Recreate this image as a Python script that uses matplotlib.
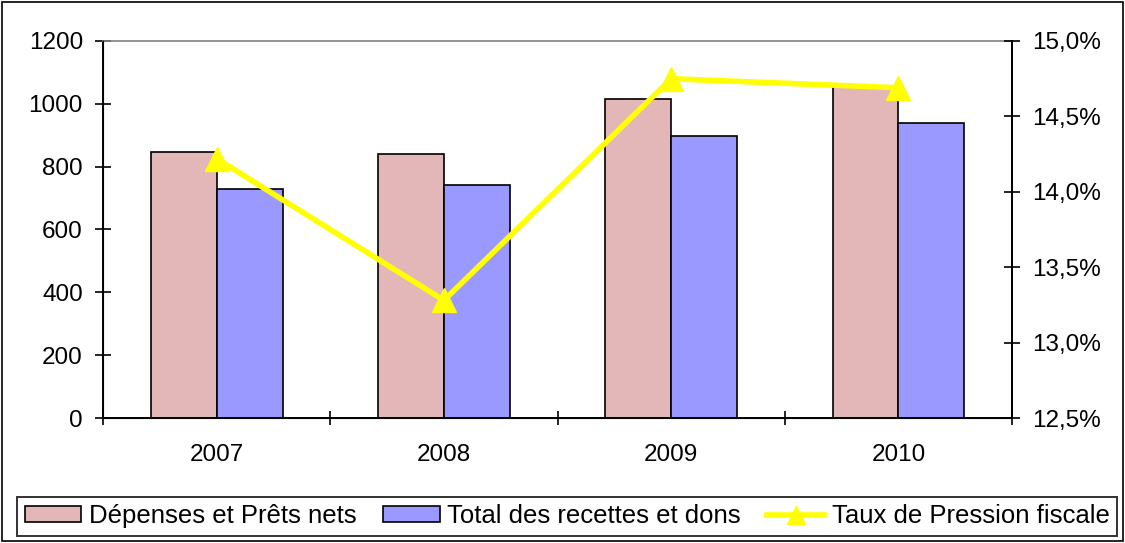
import numpy as np
import matplotlib.pyplot as plt
from matplotlib.patches import Rectangle
from matplotlib.ticker import FuncFormatter

plt.rcParams['font.family'] = ['Liberation Sans', 'DejaVu Sans']

annees = ['2007', '2008', '2009', '2010']
depenses = [847, 840, 1015, 1055]        # Dépenses et Prêts nets
recettes = [729, 742, 898, 939]          # Total des recettes et dons
pression = [14.22, 13.28, 14.75, 14.69]  # Taux de Pression fiscale (%)

rose = '#E3B7B7'
bleu = '#9999FF'
jaune = '#FFFF00'

fig = plt.figure(figsize=(11.25, 5.43), dpi=100)
ax = fig.add_axes([0.0916, 0.2302, 0.808, 0.6943])

x = np.arange(len(annees))
w = 0.29
b1 = ax.bar(x - w / 2, depenses, w, color=rose, edgecolor='black', linewidth=1.2,
            label='Dépenses et Prêts nets')
b2 = ax.bar(x + w / 2, recettes, w, color=bleu, edgecolor='black', linewidth=1.2,
            label='Total des recettes et dons')

ax.set_xlim(-0.5, len(annees) - 0.5)
ax.set_ylim(0, 1200)
ax.set_yticks(np.arange(0, 1201, 200))
# traits entre les categories, etiquettes au centre
ax.set_xticks(np.arange(-0.5, len(annees), 1.0))
ax.set_xticklabels([])
ax.set_xticks(x, minor=True)
ax.set_xticklabels(annees, minor=True)
ax.tick_params(axis='x', which='major', length=10, width=1.2, direction='inout')
ax.tick_params(axis='x', which='minor', length=0, pad=19, labelsize=17.5)
ax.tick_params(axis='y', length=11, width=1.2, direction='inout', labelsize=17.5, pad=9)

for s in ['left', 'bottom', 'right']:
    ax.spines[s].set_linewidth(1.4)
ax.spines['top'].set_color('#808080')
ax.spines['top'].set_linewidth(1.2)

ax2 = ax.twinx()
ligne, = ax2.plot(x, pression, color=jaune, linewidth=4, marker='^', markersize=17,
                  label='Taux de Pression fiscale')
ax2.set_ylim(12.5, 15.0)
ax2.set_yticks(np.arange(12.5, 15.01, 0.5))
ax2.yaxis.set_major_formatter(FuncFormatter(lambda v, p: ('%.1f%%' % v).replace('.', ',')))
ax2.tick_params(axis='y', length=11, width=1.2, direction='inout', labelsize=17.5, pad=9)
ax2.spines['right'].set_linewidth(1.4)
ax2.spines['top'].set_visible(False)

leg = fig.legend(handles=[b1, b2, ligne], loc='lower left', ncol=3, mode='expand',
                 bbox_to_anchor=(0.0151, 0.0129, 0.978, 0.079), fontsize=18.5,
                 frameon=True, fancybox=False, edgecolor='black', handlelength=2.2,
                 handleheight=0.55, handletextpad=0.3, borderaxespad=0, borderpad=0.3,
                 columnspacing=0.4, markerscale=0.8)
leg.get_frame().set_linewidth(1.4)

fig.patches.append(Rectangle((0.002, 0.003), 0.996, 0.994, transform=fig.transFigure,
                             fill=False, edgecolor='black', linewidth=1.2))

fig.savefig('out.png', dpi=100)
